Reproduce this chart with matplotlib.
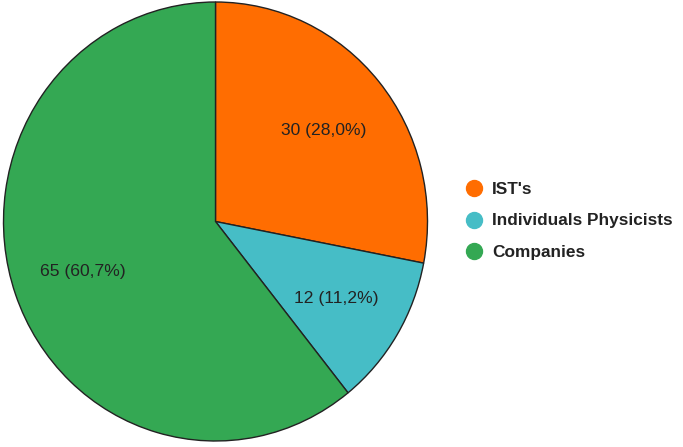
import matplotlib
matplotlib.use("Agg")
import matplotlib.pyplot as plt
from matplotlib.lines import Line2D
import numpy as np

labels = ["IST's", "Individuals Physicists", "Companies"]
counts = [30, 12, 65]
colors = ["#FF6D01", "#46BDC6", "#34A853"]

plt.rcParams['font.family'] = ['Liberation Sans', 'DejaVu Sans']

W, H = 683, 447
fig = plt.figure(figsize=(W / 100, H / 100), dpi=100)

# pie centre and radii in px (slightly squashed horizontally like the reference)
cx, cy, rx, ry = 215.5, 221.5, 212, 219.5
ax = fig.add_axes([(cx - rx) / W, (H - cy - ry) / H, 2 * rx / W, 2 * ry / H])

total = sum(counts)

def fmt(c):
    pct = c / total * 100
    return f"{c} ({pct:.1f}%)".replace(".", ",")

ax.pie(counts, colors=colors, startangle=90, counterclock=False,
       wedgeprops=dict(edgecolor="#222222", linewidth=1.0), radius=1.0)
ax.set_aspect("auto")

# labels inside wedges
cum = np.cumsum([0] + counts)
for i, c in enumerate(counts):
    mid = 90 - (cum[i] + c / 2) / total * 360
    x = 0.665 * np.cos(np.radians(mid))
    y = 0.665 * np.sin(np.radians(mid))
    ax.text(x, y, fmt(c), ha="center", va="center_baseline",
            fontsize=12.6, color="#222222")
ax.set_xlim(-1, 1)
ax.set_ylim(-1, 1)
ax.axis("off")

# legend drawn by hand
leg_y = [188, 219.5, 251]
for lab, col, yy in zip(labels, colors, leg_y):
    fig.add_artist(Line2D([474 / W], [(H - yy) / H], marker="o", linestyle="none",
                          markersize=11.5, markerfacecolor=col, markeredgecolor=col,
                          transform=fig.transFigure))
    fig.text(492 / W, (H - yy) / H, lab, ha="left", va="center_baseline",
             fontsize=12.4, fontweight="bold", color="#222222")

fig.savefig("out.png", dpi=100)
